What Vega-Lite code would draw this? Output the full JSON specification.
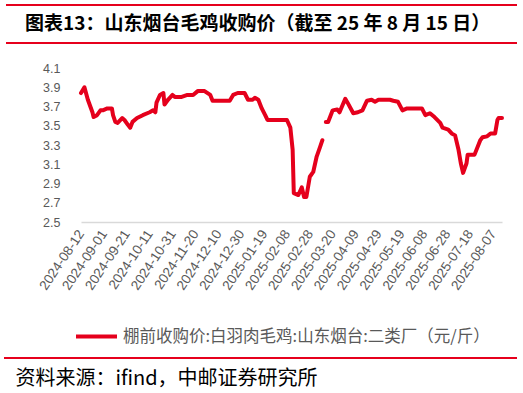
{
  "$schema": "https://vega.github.io/schema/vega-lite/v6.json",
  "width": 421,
  "height": 154,
  "autosize": {"type": "none"},
  "padding": {"left": 81, "top": 68, "right": 21, "bottom": 171},
  "background": "#ffffff",
  "config": {"view": {"stroke": null}, "font": "Noto Sans CJK SC", "axis": {"labelOverlap": false}},
  "title": {
    "text": "图表13：山东烟台毛鸡收购价（截至 25 年 8 月 15 日）",
    "anchor": "start",
    "frame": "group",
    "dx": -56,
    "offset": -30,
    "fontSize": 19,
    "fontWeight": "bold",
    "font": "Noto Sans CJK SC",
    "color": "#000000"
  },
  "data": {
    "values": [
      {"date": "2024-08-12", "price": 3.84},
      {"date": "2024-08-15", "price": 3.90},
      {"date": "2024-08-18", "price": 3.77},
      {"date": "2024-08-22", "price": 3.64},
      {"date": "2024-08-23", "price": 3.59},
      {"date": "2024-08-26", "price": 3.61},
      {"date": "2024-08-29", "price": 3.66},
      {"date": "2024-08-31", "price": 3.66},
      {"date": "2024-09-04", "price": 3.68},
      {"date": "2024-09-08", "price": 3.68},
      {"date": "2024-09-09", "price": 3.61},
      {"date": "2024-09-11", "price": 3.54},
      {"date": "2024-09-13", "price": 3.53},
      {"date": "2024-09-17", "price": 3.58},
      {"date": "2024-09-19", "price": 3.56},
      {"date": "2024-09-22", "price": 3.51},
      {"date": "2024-09-24", "price": 3.48},
      {"date": "2024-09-26", "price": 3.54},
      {"date": "2024-09-30", "price": 3.58},
      {"date": "2024-10-05", "price": 3.61},
      {"date": "2024-10-11", "price": 3.64},
      {"date": "2024-10-14", "price": 3.66},
      {"date": "2024-10-16", "price": 3.64},
      {"date": "2024-10-17", "price": 3.74},
      {"date": "2024-10-20", "price": 3.82},
      {"date": "2024-10-23", "price": 3.84},
      {"date": "2024-10-24", "price": 3.72},
      {"date": "2024-10-27", "price": 3.77},
      {"date": "2024-10-31", "price": 3.82},
      {"date": "2024-11-02", "price": 3.80},
      {"date": "2024-11-08", "price": 3.80},
      {"date": "2024-11-13", "price": 3.82},
      {"date": "2024-11-18", "price": 3.82},
      {"date": "2024-11-22", "price": 3.86},
      {"date": "2024-11-28", "price": 3.86},
      {"date": "2024-12-03", "price": 3.82},
      {"date": "2024-12-05", "price": 3.76},
      {"date": "2024-12-20", "price": 3.76},
      {"date": "2024-12-23", "price": 3.82},
      {"date": "2024-12-27", "price": 3.84},
      {"date": "2025-01-02", "price": 3.84},
      {"date": "2025-01-05", "price": 3.77},
      {"date": "2025-01-09", "price": 3.77},
      {"date": "2025-01-11", "price": 3.79},
      {"date": "2025-01-14", "price": 3.77},
      {"date": "2025-01-17", "price": 3.68},
      {"date": "2025-01-20", "price": 3.61},
      {"date": "2025-01-22", "price": 3.56},
      {"date": "2025-02-08", "price": 3.56},
      {"date": "2025-02-11", "price": 3.48},
      {"date": "2025-02-13", "price": 3.25},
      {"date": "2025-02-14", "price": 2.80},
      {"date": "2025-02-18", "price": 2.78},
      {"date": "2025-02-21", "price": 2.86},
      {"date": "2025-02-23", "price": 2.76},
      {"date": "2025-02-25", "price": 2.76},
      {"date": "2025-02-28", "price": 2.97},
      {"date": "2025-03-03", "price": 3.02},
      {"date": "2025-03-06", "price": 3.18},
      {"date": "2025-03-09", "price": 3.28},
      {"date": "2025-03-11", "price": 3.35},
      {"date": "2025-03-12", "price": null},
      {"date": "2025-03-14", "price": 3.54},
      {"date": "2025-03-16", "price": 3.54},
      {"date": "2025-03-20", "price": 3.66},
      {"date": "2025-03-24", "price": 3.67},
      {"date": "2025-03-26", "price": 3.64},
      {"date": "2025-03-31", "price": 3.78},
      {"date": "2025-04-02", "price": 3.74},
      {"date": "2025-04-07", "price": 3.63},
      {"date": "2025-04-11", "price": 3.64},
      {"date": "2025-04-15", "price": 3.66},
      {"date": "2025-04-19", "price": 3.76},
      {"date": "2025-04-23", "price": 3.77},
      {"date": "2025-04-26", "price": 3.75},
      {"date": "2025-04-29", "price": 3.77},
      {"date": "2025-05-09", "price": 3.77},
      {"date": "2025-05-12", "price": 3.76},
      {"date": "2025-05-16", "price": 3.75},
      {"date": "2025-05-20", "price": 3.66},
      {"date": "2025-05-24", "price": 3.68},
      {"date": "2025-06-06", "price": 3.68},
      {"date": "2025-06-09", "price": 3.61},
      {"date": "2025-06-13", "price": 3.63},
      {"date": "2025-06-17", "price": 3.59},
      {"date": "2025-06-22", "price": 3.53},
      {"date": "2025-06-24", "price": 3.48},
      {"date": "2025-06-29", "price": 3.46},
      {"date": "2025-07-02", "price": 3.42},
      {"date": "2025-07-05", "price": 3.40},
      {"date": "2025-07-08", "price": 3.25},
      {"date": "2025-07-10", "price": 3.11},
      {"date": "2025-07-12", "price": 3.01},
      {"date": "2025-07-15", "price": 3.11},
      {"date": "2025-07-16", "price": 3.20},
      {"date": "2025-07-22", "price": 3.20},
      {"date": "2025-07-27", "price": 3.35},
      {"date": "2025-07-29", "price": 3.38},
      {"date": "2025-08-02", "price": 3.39},
      {"date": "2025-08-05", "price": 3.42},
      {"date": "2025-08-09", "price": 3.42},
      {"date": "2025-08-11", "price": 3.56},
      {"date": "2025-08-12", "price": 3.58},
      {"date": "2025-08-15", "price": 3.58}
    ]
  },
  "layer": [
    {
      "mark": {"type": "line", "strokeWidth": 4, "strokeJoin": "round", "strokeCap": "round", "invalid": "break-paths-show-domains"},
      "encoding": {
        "x": {
          "field": "date",
          "type": "temporal",
          "scale": {"type": "utc", "domain": [{"year": 2024, "month": 8, "date": 12, "utc": true}, {"year": 2025, "month": 8, "date": 15, "utc": true}]},
          "axis": {
            "values": [
              {"year": 2024, "month": 8, "date": 12, "utc": true},
              {"year": 2024, "month": 9, "date": 1, "utc": true},
              {"year": 2024, "month": 9, "date": 21, "utc": true},
              {"year": 2024, "month": 10, "date": 11, "utc": true},
              {"year": 2024, "month": 10, "date": 31, "utc": true},
              {"year": 2024, "month": 11, "date": 20, "utc": true},
              {"year": 2024, "month": 12, "date": 10, "utc": true},
              {"year": 2024, "month": 12, "date": 30, "utc": true},
              {"year": 2025, "month": 1, "date": 19, "utc": true},
              {"year": 2025, "month": 2, "date": 8, "utc": true},
              {"year": 2025, "month": 2, "date": 28, "utc": true},
              {"year": 2025, "month": 3, "date": 20, "utc": true},
              {"year": 2025, "month": 4, "date": 9, "utc": true},
              {"year": 2025, "month": 4, "date": 29, "utc": true},
              {"year": 2025, "month": 5, "date": 19, "utc": true},
              {"year": 2025, "month": 6, "date": 8, "utc": true},
              {"year": 2025, "month": 6, "date": 28, "utc": true},
              {"year": 2025, "month": 7, "date": 18, "utc": true},
              {"year": 2025, "month": 8, "date": 7, "utc": true}
            ],
            "tickCount": 100,
            "format": "%Y-%m-%d",
            "labelAngle": -56,
            "labelFontSize": 13.5,
            "labelColor": "#595959",
            "labelFont": "Liberation Sans",
            "labelOverlap": false,
            "labelSeparation": 0,
            "labelFlush": false,
            "labelPadding": 9,
            "ticks": false,
            "grid": false,
            "domainColor": "#D9D9D9",
            "domainWidth": 1.5,
            "title": "资料来源：ifind，中邮证券研究所",
            "titleX": -66,
            "titleY": 156,
            "titleAlign": "left",
            "titleBaseline": "middle",
            "titleFontSize": 20,
            "titleFontWeight": "normal",
            "titleColor": "#000000",
            "titleFont": "Noto Sans CJK SC"
          }
        },
        "y": {
          "field": "price",
          "type": "quantitative",
          "scale": {"domain": [2.5, 4.1], "zero": false, "nice": false},
          "axis": {
            "values": [2.5, 2.7, 2.9, 3.1, 3.3, 3.5, 3.7, 3.9, 4.1],
            "tickCount": 100,
            "format": ".1f",
            "ticks": false,
            "domain": false,
            "grid": false,
            "labelOverlap": false,
            "labelPadding": 21,
            "labelFontSize": 12.5,
            "labelColor": "#595959",
            "labelFont": "Liberation Sans",
            "title": null
          }
        },
        "color": {
          "datum": "棚前收购价:白羽肉毛鸡:山东烟台:二类厂（元/斤）",
          "scale": {"range": ["#E5001C"]},
          "legend": {
            "orient": "none",
            "legendX": -7,
            "legendY": 246,
            "title": null,
            "symbolType": "stroke",
            "symbolSize": 1681,
            "symbolStrokeWidth": 4,
            "labelFontSize": 16.5,
            "labelColor": "#595959",
            "labelFont": "Noto Sans CJK SC",
            "labelOffset": 4,
            "labelLimit": 500
          }
        }
      }
    },
    {
      "mark": {"type": "rule", "color": "#E5001C", "strokeWidth": 1.2, "clip": false},
      "encoding": {
        "x": {"datum": {"year": 2024, "month": 6, "date": 8, "utc": true}, "type": "temporal"},
        "x2": {"datum": {"year": 2025, "month": 8, "date": 28, "utc": true}},
        "y": {"datum": 4.755, "type": "quantitative"}
      }
    },
    {
      "mark": {"type": "rule", "color": "#E5001C", "strokeWidth": 1.2, "clip": false},
      "encoding": {
        "x": {"datum": {"year": 2024, "month": 6, "date": 8, "utc": true}, "type": "temporal"},
        "x2": {"datum": {"year": 2025, "month": 8, "date": 28, "utc": true}},
        "y": {"datum": 4.36, "type": "quantitative"}
      }
    },
    {
      "mark": {"type": "rule", "color": "#E5001C", "strokeWidth": 1.2, "clip": false},
      "encoding": {
        "x": {"datum": {"year": 2024, "month": 6, "date": 6, "utc": true}, "type": "temporal"},
        "x2": {"datum": {"year": 2025, "month": 8, "date": 28, "utc": true}},
        "y": {"datum": 1.087, "type": "quantitative"}
      }
    }
  ]
}
